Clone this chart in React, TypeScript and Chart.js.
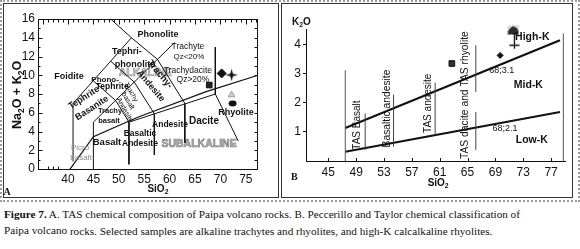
import React, { useEffect, useRef } from "react";
import { Chart, registerables } from "chart.js";

Chart.register(...registerables);

const NARROW = '"Liberation Sans Narrow", "Liberation Sans", Arial, sans-serif';
const SANS = '"Liberation Sans", Arial, sans-serif';
const SERIF = '"Liberation Serif", "Times New Roman", serif';

// ================= Panel A : TAS diagram =================
const tasXTicks = [40, 45, 50, 55, 60, 65, 70, 75];
const tasYTicks = [0, 2, 4, 6, 8, 10, 12, 14, 16];

// field boundaries [SiO2, Na2O+K2O]
const tasFoiditeLine = [[41, 0.8], [41, 7], [52.5, 14]];
const tasPhonoliteLine = [[48.4, 16], [52.5, 14], [57.6, 11.7], [63, 7], [63, 2.8]];
const tasTrachyLine = [[45, 0], [45, 5], [61, 13.5]];
const tasBasaltLine = [[45, 9.4], [49.4, 7.3], [52, 5], [52, 0.5]];
const tasAndesiteLine = [[48.4, 11.5], [53, 9.3], [57, 5.9], [57, 1.5]];
const tasDaciteLine = [[52, 5], [69, 8]];
const tasRhyoliteLine = [[69, 13], [69, 8], [73.5, 3]];
const tasAlkalineLine = [[40.4, 0], [45, 3.45], [51.7, 5.05], [54.1, 5.6], [67.2, 8.25], [77.4, 10]];

// samples
const tasSquare = [[67.8, 8.96]];
const tasDiamond = [[70.25, 10.2]];
const tasStar = [[72.2, 10.03]];
const tasTriangle = [[72.2, 7.9]];
const tasEllipse = [[72.4, 7.0]];

type Label = {
  text: string; x: number; y: number; size: number;
  rot?: number; weight?: string; color?: string; family?: string; outline?: string;
};

const tasBackLabels: Label[] = [
  { text: "ALKALINE", x: 55.2, y: 10.2, size: 10.5, weight: "bold", color: "#c4c4c4", family: SANS, outline: "#999" },
  { text: "SUBALKALINE", x: 65.8, y: 2.67, size: 10.5, weight: "bold", color: "#b4b4b4", family: SANS, outline: "#7a7a7a" },
];

const tasLabels: Label[] = [
  { text: "Phonolite", x: 57.7, y: 14.3, size: 9, weight: "bold" },
  { text: "Tephri-", x: 51.6, y: 12.5, size: 9, weight: "bold" },
  { text: "phonolite", x: 53.2, y: 11.2, size: 9, weight: "bold" },
  { text: "Foidite", x: 40.2, y: 9.9, size: 9, weight: "bold" },
  { text: "Phono-", x: 47.3, y: 9.5, size: 8, weight: "bold" },
  { text: "Tephrite", x: 48.7, y: 8.75, size: 8.5, weight: "bold" },
  { text: "Tephrite", x: 43.15, y: 7.6, rot: -33, size: 9, weight: "bold" },
  { text: "Basanite", x: 44.7, y: 6.5, rot: -33, size: 9, weight: "bold" },
  { text: "Trachy-", x: 58.1, y: 10.1, rot: 50, size: 9.5, weight: "bold" },
  { text: "Andesite", x: 56.3, y: 8.86, rot: 50, size: 9, weight: "bold" },
  { text: "Trachy", x: 52.4, y: 8.2, rot: 60, size: 7 },
  { text: "basalt", x: 51.8, y: 7.26, rot: 60, size: 7 },
  { text: "Andesite", x: 51.2, y: 6.3, rot: 60, size: 7 },
  { text: "Trachy", x: 48.27, y: 6.19, size: 7.5, weight: "bold" },
  { text: "basalt", x: 48.07, y: 5.12, size: 7.5, weight: "bold" },
  { text: "Basalt", x: 47.68, y: 2.89, size: 9.5, weight: "bold" },
  { text: "Picro", x: 42.37, y: 2.25, size: 8, color: "#8a8a8a" },
  { text: "basalt", x: 42.56, y: 1.18, size: 8, color: "#8a8a8a" },
  { text: "Basaltic", x: 54.17, y: 3.74, size: 8.5, weight: "bold" },
  { text: "Andesite", x: 54.17, y: 2.67, size: 8.5, weight: "bold" },
  { text: "Andesite", x: 60.08, y: 4.7, size: 8.5, weight: "bold" },
  { text: "Dacite", x: 66.77, y: 5.12, size: 10, weight: "bold" },
  { text: "Rhyolite", x: 73.07, y: 6.08, size: 9, weight: "bold" },
  { text: "Trachyte", x: 63.6, y: 13.0, size: 8.5 },
  { text: "Qz<20%", x: 63.8, y: 11.95, size: 8 },
  { text: "Trachydacite", x: 63.6, y: 10.46, size: 8.5 },
  { text: "Qz>20%", x: 64.6, y: 9.5, size: 8.5 },
  { text: "Na₂O + K₂O", x: 30.1, y: 7.9, rot: -90, size: 12.5, weight: "bold", family: SANS },
  { text: "SiO₂", x: 57.7, y: -2.13, size: 10, weight: "bold", family: SANS },
  { text: "A", x: 28.0, y: -2.45, size: 10, weight: "bold", family: SERIF },
];

// ================= Panel B : Peccerillo & Taylor =================
const pkXTicks = [45, 49, 53, 57, 61, 65, 69, 73, 77];
const pkYTicks = [1, 2, 3, 4];

const pkHighKLine = [[47.44, 1.14], [78.28, 4.16]];
const pkLowKLine = [[47.44, 0.32], [78.28, 1.69]];
const pkLeftLine = [[47.44, 0], [47.44, 3.13]];
const pkBasaltLine = [[50.3, 0.38], [50.3, 1.64]];
const pkBasAndesiteLine = [[54.37, 0.49], [54.37, 2.29]];
const pkAndesiteLine = [[60.35, 0.9], [60.35, 2.7]];
const pkDaciteUpper = [[66.19, 2.38], [66.19, 3.99]];
const pkDaciteLower = [[66.19, 0.38], [66.19, 1.69]];
const pkRightLine = [[78.76, 0], [78.76, 4.4]];

const pkDome = [[71.58, 4.5]];
const pkCross = [[71.73, 3.99]];
const pkDiamond = [[69.68, 3.64]];
const pkSquare = [[62.75, 3.36]];

const pkLabels: Label[] = [
  { text: "High-K", x: 74.3, y: 4.27, size: 10.5, weight: "bold" },
  { text: "Mid-K", x: 73.74, y: 2.61, size: 10.5, weight: "bold" },
  { text: "Low-K", x: 74.23, y: 0.72, size: 10.5, weight: "bold" },
  { text: "68;3.1", x: 69.92, y: 3.13, size: 9 },
  { text: "68;2.1", x: 70.39, y: 1.12, size: 9 },
  { text: "TAS Basalt", x: 49.12, y: 1.24, rot: -90, size: 10, family: SANS },
  { text: "Basaltic andesite", x: 53.42, y: 1.81, rot: -90, size: 10.3, family: SANS },
  { text: "TAS andesite", x: 59.39, y: 1.99, rot: -90, size: 10, family: SANS },
  { text: "TAS dacite and TAS rhyolite", x: 64.65, y: 2.27, rot: -90, size: 10.3, family: SANS },
  { text: "K₂O", x: 41.13, y: 4.78, size: 10, weight: "bold", family: SANS },
  { text: "SiO₂", x: 60.78, y: -0.76, size: 10, weight: "bold", family: SANS },
  { text: "B", x: 40.12, y: -0.58, size: 10, weight: "bold", family: SERIF },
];

// ================= helpers =================
const pts = (arr: number[][]) => arr.map(([x, y]) => ({ x, y }));

function drawRich(ctx: CanvasRenderingContext2D, l: Label, px: number, py: number) {
  const family = l.family || NARROW;
  const weight = l.weight || "normal";
  const segs: { t: string; sub: boolean; w: number }[] = [];
  let buf = "";
  for (const ch of l.text) {
    if (ch === "₂") {
      if (buf) segs.push({ t: buf, sub: false, w: 0 });
      segs.push({ t: "2", sub: true, w: 0 });
      buf = "";
    } else buf += ch;
  }
  if (buf) segs.push({ t: buf, sub: false, w: 0 });
  const fMain = `${weight} ${l.size}px ${family}`;
  const fSub = `${weight} ${(l.size * 0.68).toFixed(1)}px ${family}`;
  ctx.save();
  ctx.translate(px, py);
  if (l.rot) ctx.rotate((l.rot * Math.PI) / 180);
  let total = 0;
  for (const s of segs) {
    ctx.font = s.sub ? fSub : fMain;
    s.w = ctx.measureText(s.t).width;
    total += s.w;
  }
  let cx = -total / 2;
  ctx.textBaseline = "middle";
  ctx.textAlign = "left";
  for (const s of segs) {
    ctx.font = s.sub ? fSub : fMain;
    const dy = s.sub ? l.size * 0.3 : 0;
    ctx.fillStyle = l.color || "#111";
    ctx.fillText(s.t, cx, dy);
    if (l.outline) {
      ctx.strokeStyle = l.outline;
      ctx.lineWidth = 0.6;
      ctx.strokeText(s.t, cx, dy);
    }
    cx += s.w;
  }
  ctx.restore();
}

function labelPlugin(id: string, back: Label[], front: Label[]) {
  const paint = (chart: any, list: Label[]) => {
    const { ctx, scales } = chart;
    list.forEach((l) => drawRich(ctx, l, scales.x.getPixelForValue(l.x), scales.y.getPixelForValue(l.y)));
  };
  return {
    id,
    beforeDatasetsDraw(chart: any) { paint(chart, back); },
    afterDatasetsDraw(chart: any) { paint(chart, front); },
  };
}

const tasFramePlugin = {
  id: "tasFrame",
  afterDraw(chart: any) {
    const { ctx, chartArea: a, scales } = chart;
    const { x, y } = scales;
    const L = Math.round(a.left) + 0.5, R = Math.round(a.right) - 0.5;
    const T = Math.round(a.top) + 0.5, B = Math.round(a.bottom) - 0.5;
    ctx.save();
    ctx.strokeStyle = "#111";
    ctx.lineWidth = 1;
    ctx.strokeRect(L, T, R - L, B - T);
    ctx.beginPath();
    for (let v = 35; v <= 77; v++) {
      const p = Math.round(x.getPixelForValue(v)) + 0.5;
      const len = v % 5 === 0 ? 5 : 3;
      ctx.moveTo(p, T); ctx.lineTo(p, T + len);
    }
    for (let v = 0; v <= 16; v++) {
      const p = Math.round(y.getPixelForValue(v)) + 0.5;
      ctx.moveTo(R, p); ctx.lineTo(R - 3, p);
      const len = v % 2 === 0 ? 4 : 2;
      ctx.moveTo(L, p); ctx.lineTo(L + len, p);
    }
    [36, 37, 38].forEach((v) => {
      const p = Math.round(x.getPixelForValue(v)) + 0.5;
      ctx.moveTo(p, B); ctx.lineTo(p, B - 3);
    });
    ctx.stroke();
    ctx.restore();
  },
};

const pkTickPlugin = {
  id: "pkTicks",
  afterDraw(chart: any) {
    const { ctx, chartArea: a, scales } = chart;
    ctx.save();
    ctx.strokeStyle = "#111";
    ctx.lineWidth = 1;
    ctx.beginPath();
    pkXTicks.forEach((v) => {
      const p = Math.round(scales.x.getPixelForValue(v)) + 0.5;
      ctx.moveTo(p, a.bottom); ctx.lineTo(p, a.bottom - 3);
    });
    ctx.stroke();
    ctx.restore();
  },
};

function makeCanvas(w: number, h: number, draw: (g: CanvasRenderingContext2D) => void) {
  const c = document.createElement("canvas");
  c.width = w; c.height = h;
  draw(c.getContext("2d")!);
  return c;
}

function lineDs(arr: number[][], color: string, width: number) {
  return {
    data: pts(arr), showLine: true, borderColor: color, borderWidth: width,
    pointRadius: 0, fill: false, tension: 0, clip: false as any,
  };
}

function pointDs(arr: number[][], style: any, radius: number, bg: string, border: string, bw = 1) {
  return {
    data: pts(arr), showLine: false, pointStyle: style, pointRadius: radius,
    backgroundColor: bg, borderColor: border, borderWidth: bw, clip: false as any,
  };
}

function tickFont(size: number) {
  return { family: NARROW, size, weight: "normal" as any };
}

export default function App() {
  const refA = useRef<HTMLCanvasElement>(null);
  const refB = useRef<HTMLCanvasElement>(null);

  useEffect(() => {
    const star = makeCanvas(13, 13, (g) => {
      g.fillStyle = "#111";
      g.beginPath();
      for (let i = 0; i < 8; i++) {
        const ang = -Math.PI / 2 + (i * Math.PI) / 4;
        const rad = i % 2 === 0 ? 6.3 : 1.9;
        const px = 6.5 + rad * Math.cos(ang), py = 6.5 + rad * Math.sin(ang);
        if (i === 0) g.moveTo(px, py); else g.lineTo(px, py);
      }
      g.closePath();
      g.fill();
    });
    const ellipse = makeCanvas(9, 7, (g) => {
      g.fillStyle = "#111";
      g.beginPath();
      g.ellipse(4.5, 3.5, 4, 3, 0, 0, Math.PI * 2);
      g.fill();
    });
    const dome = makeCanvas(12, 10, (g) => {
      g.fillStyle = "#1a1a1a";
      g.beginPath();
      g.ellipse(6, 9, 5.5, 8, 0, Math.PI, Math.PI * 2);
      g.closePath();
      g.fill();
      g.strokeStyle = "#777";
      g.lineWidth = 0.6;
      g.beginPath();
      for (let k = -10; k < 12; k += 3) { g.moveTo(k, 10); g.lineTo(k + 10, 0); }
      g.stroke();
    });
    const cross = makeCanvas(11, 27, (g) => {
      g.strokeStyle = "#111";
      g.lineWidth = 1.3;
      g.beginPath();
      g.moveTo(5.5, 1); g.lineTo(5.5, 17);
      g.moveTo(0.5, 13.5); g.lineTo(10.5, 13.5);
      g.stroke();
    });

    const chartA = new Chart(refA.current!, {
      type: "scatter",
      data: {
        datasets: [
          lineDs(tasFoiditeLine, "#111", 1),
          lineDs(tasPhonoliteLine, "#111", 1),
          lineDs(tasTrachyLine, "#111", 1),
          lineDs(tasBasaltLine, "#111", 1),
          lineDs(tasAndesiteLine, "#111", 1),
          lineDs(tasDaciteLine, "#111", 1),
          lineDs(tasRhyoliteLine, "#111", 1),
          lineDs(tasAlkalineLine, "#111", 1.2),
          pointDs(tasSquare, "rect", 4, "#222", "#111"),
          pointDs(tasDiamond, "rectRot", 4.5, "#111", "#111"),
          pointDs(tasStar, star, 6, "#111", "#111"),
          pointDs(tasTriangle, "triangle", 3.8, "#d0d0d0", "#9a9a9a"),
          pointDs(tasEllipse, ellipse, 4, "#111", "#111"),
        ] as any,
      },
      options: {
        animation: false,
        responsive: false,
        maintainAspectRatio: false,
        events: [],
        layout: { padding: { top: 16, right: 21, left: 0, bottom: 0 } },
        plugins: { legend: { display: false }, tooltip: { enabled: false } },
        scales: {
          x: {
            type: "linear", min: 34.1, max: 77.4,
            afterBuildTicks: (s: any) => { s.ticks = tasXTicks.map((v) => ({ value: v })); },
            afterFit: (s: any) => { s.height = 28; },
            grid: { display: false, drawTicks: false },
            border: { display: false },
            ticks: { color: "#111", font: tickFont(12), padding: 2, maxRotation: 0, autoSkip: false },
          },
          y: {
            type: "linear", min: -0.1, max: 16,
            afterBuildTicks: (s: any) => { s.ticks = tasYTicks.map((v) => ({ value: v })); },
            afterFit: (s: any) => { s.width = 35; },
            grid: { display: false, drawTicks: false },
            border: { display: false },
            ticks: { color: "#111", font: tickFont(12), padding: 3, autoSkip: false },
          },
        },
      } as any,
      plugins: [labelPlugin("tasLabels", tasBackLabels, tasLabels), tasFramePlugin],
    });

    const chartB = new Chart(refB.current!, {
      type: "scatter",
      data: {
        datasets: [
          lineDs(pkLeftLine, "#555", 1),
          lineDs(pkBasaltLine, "#444", 1),
          lineDs(pkBasAndesiteLine, "#444", 1),
          lineDs(pkAndesiteLine, "#444", 1),
          lineDs(pkDaciteUpper, "#444", 1),
          lineDs(pkDaciteLower, "#444", 1),
          lineDs(pkRightLine, "#555", 1),
          lineDs(pkHighKLine, "#111", 2.2),
          lineDs(pkLowKLine, "#111", 2.2),
          pointDs(pkSquare, "rect", 4, "#333", "#111"),
          pointDs(pkDiamond, "rectRot", 3, "#111", "#111"),
          pointDs(pkCross, cross, 6, "#111", "#111"),
          pointDs(pkDome, dome, 6, "#111", "#111"),
        ] as any,
      },
      options: {
        animation: false,
        responsive: false,
        maintainAspectRatio: false,
        events: [],
        layout: { padding: { top: 26, right: 8, left: 0, bottom: 0 } },
        plugins: { legend: { display: false }, tooltip: { enabled: false } },
        scales: {
          x: {
            type: "linear", min: 41.8, max: 79,
            afterBuildTicks: (s: any) => { s.ticks = pkXTicks.map((v) => ({ value: v })); },
            afterFit: (s: any) => { s.height = 37; },
            grid: { display: false, drawTicks: false },
            border: { display: true, color: "#111", width: 1 },
            ticks: { color: "#111", font: tickFont(12), padding: 4, maxRotation: 0, autoSkip: false },
          },
          y: {
            type: "linear", min: 0, max: 4.55,
            afterBuildTicks: (s: any) => { s.ticks = pkYTicks.map((v) => ({ value: v })); },
            afterFit: (s: any) => { s.width = 24; },
            grid: { display: true, drawOnChartArea: false, drawTicks: true, tickLength: 3, color: "#111" },
            border: { display: true, color: "#111", width: 1 },
            ticks: { color: "#111", font: tickFont(12), padding: 2, autoSkip: false },
          },
        },
      } as any,
      plugins: [labelPlugin("pkLabels", [], pkLabels), pkTickPlugin],
    });

    return () => {
      chartA.destroy();
      chartB.destroy();
    };
  }, []);

  const abs = (l: number, t: number, w: number, h: number): React.CSSProperties => ({
    position: "absolute", left: l, top: t, width: w, height: h, boxSizing: "border-box",
  });

  return (
    <div style={{ position: "absolute", left: 0, top: 0, width: 580, height: 249, background: "#fff", overflow: "hidden" }}>
      <div style={{ ...abs(0, 0, 580, 202), border: "2px dotted #9c9c9c" }} />
      <div style={{ ...abs(3, 3, 276, 195), border: "1px solid #333" }} />
      <div style={{ ...abs(281, 3, 292, 195), border: "1px solid #333" }} />
      <canvas ref={refA} width={276} height={195} style={{ position: "absolute", left: 3, top: 3, width: 276, height: 195 }} />
      <canvas ref={refB} width={291} height={195} style={{ position: "absolute", left: 282, top: 3, width: 291, height: 195 }} />
      <div
        style={{
          position: "absolute", left: 4, top: 206, width: 576, fontFamily: SERIF, fontSize: 11.2,
          lineHeight: "16px", color: "#111", whiteSpace: "nowrap",
        }}
      >
        <div>
          <b>Figure 7.</b> A. TAS chemical composition of Paipa volcano rocks. B. Peccerillo and Taylor chemical classification of
        </div>
        <div>
          Paipa volcano{" "}
          <span style={{ position: "relative", top: 1 }}>
            rocks. Selected samples are alkaline trachytes and rhyolites, and high-K calcalkaline rhyolites.
          </span>
        </div>
      </div>
    </div>
  );
}
